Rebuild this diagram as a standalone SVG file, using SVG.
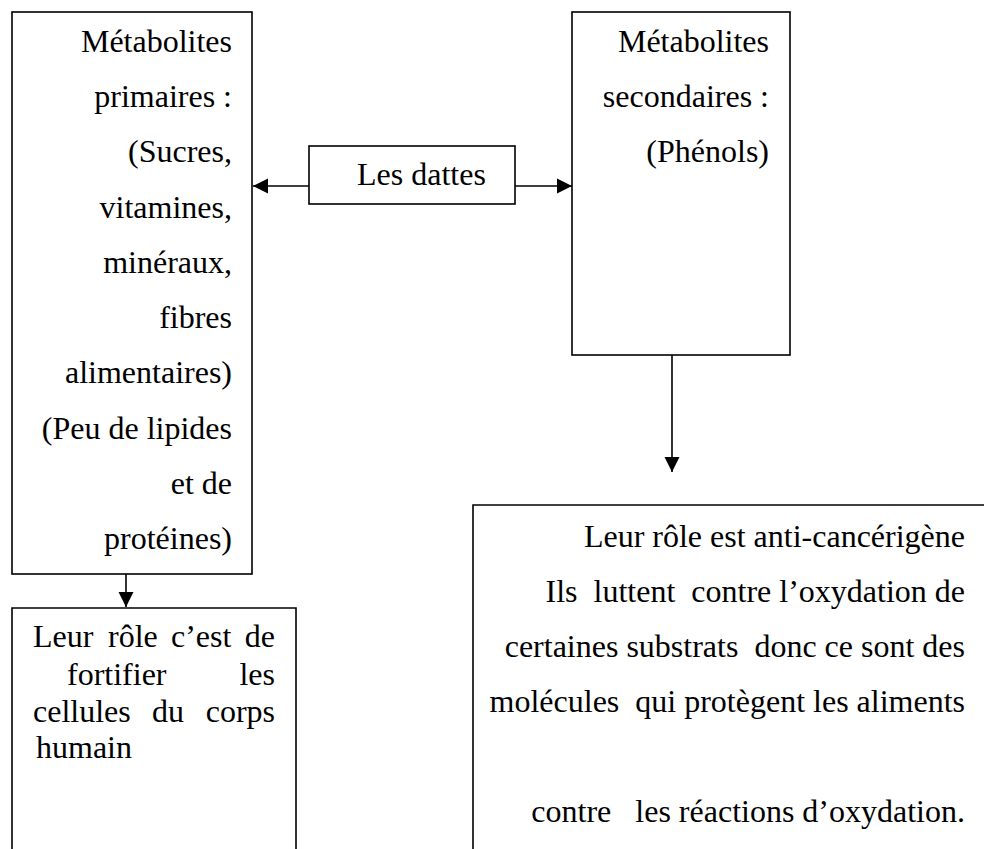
<svg xmlns="http://www.w3.org/2000/svg" width="984" height="849" viewBox="0 0 984 849">
<style>
.box{fill:#fff;stroke:#000;stroke-width:1.6}
text{font-family:'Liberation Serif','Times New Roman','DejaVu Serif',serif;font-size:32px;fill:#000}
.r{text-anchor:end}
.con{stroke:#000;stroke-width:1.6;fill:none}
</style>
<defs>
<marker id="ah" markerUnits="userSpaceOnUse" markerWidth="16" markerHeight="16" viewBox="0 0 16 16" refX="15" refY="8" orient="auto">
<path d="M0,0.5 L15,8 L0,15.5 Z" fill="#000"/>
</marker>
</defs>
<rect width="984" height="849" fill="#fff"/>
<g id="primaires">
<rect class="box" x="12" y="12" width="240" height="562"/>
<text class="r" x="232" y="52">Métabolites</text>
<text class="r" x="232" y="107">primaires :</text>
<text class="r" x="232" y="162">(Sucres,</text>
<text class="r" x="232" y="218">vitamines,</text>
<text class="r" x="232" y="273">minéraux,</text>
<text class="r" x="232" y="328">fibres</text>
<text class="r" x="232" y="383">alimentaires)</text>
<text class="r" x="232" y="439">(Peu de lipides</text>
<text class="r" x="232" y="494">et de</text>
<text class="r" x="232" y="549">protéines)</text>
</g>
<g id="dattes">
<rect class="box" x="309" y="146" width="206" height="58"/>
<text x="357" y="185">Les dattes</text>
</g>
<g id="secondaires">
<rect class="box" x="572" y="12" width="218" height="343"/>
<text class="r" x="769" y="52">Métabolites</text>
<text class="r" x="769" y="107">secondaires :</text>
<text class="r" x="769" y="162">(Phénols)</text>
</g>
<g id="role-primaires">
<path class="box" d="M12,860 L12,608 L296,608 L296,860"/>
<text y="647"><tspan x="33">Leur</tspan><tspan x="108">rôle</tspan><tspan x="171">c’est</tspan><tspan x="275" text-anchor="end">de</tspan></text>
<text y="685"><tspan x="67">fortifier</tspan><tspan x="275" text-anchor="end">les</tspan></text>
<text y="722"><tspan x="33">cellules</tspan><tspan x="152">du</tspan><tspan x="275" text-anchor="end">corps</tspan></text>
<text x="36" y="758">humain</text>
</g>
<g id="role-secondaires">
<path class="box" d="M473,860 L473,505 L1000,505"/>
<text class="r" x="965" y="547">Leur rôle est anti-cancérigène</text>
<text class="r" x="965" y="602" xml:space="preserve">Ils  luttent  contre l’oxydation de</text>
<text class="r" x="965" y="657" xml:space="preserve">certaines substrats  donc ce sont des</text>
<text class="r" x="965" y="712" xml:space="preserve">molécules  qui protègent les aliments</text>
<text class="r" x="965" y="822" xml:space="preserve">contre   les réactions d’oxydation.</text>
</g>
<g id="connectors">
<line class="con" x1="309" y1="186" x2="253" y2="186" marker-end="url(#ah)"/>
<line class="con" x1="515" y1="186" x2="572" y2="186" marker-end="url(#ah)"/>
<line class="con" x1="126" y1="574" x2="126" y2="607" marker-end="url(#ah)"/>
<line class="con" x1="672" y1="355" x2="672" y2="472" marker-end="url(#ah)"/>
</g>
</svg>
